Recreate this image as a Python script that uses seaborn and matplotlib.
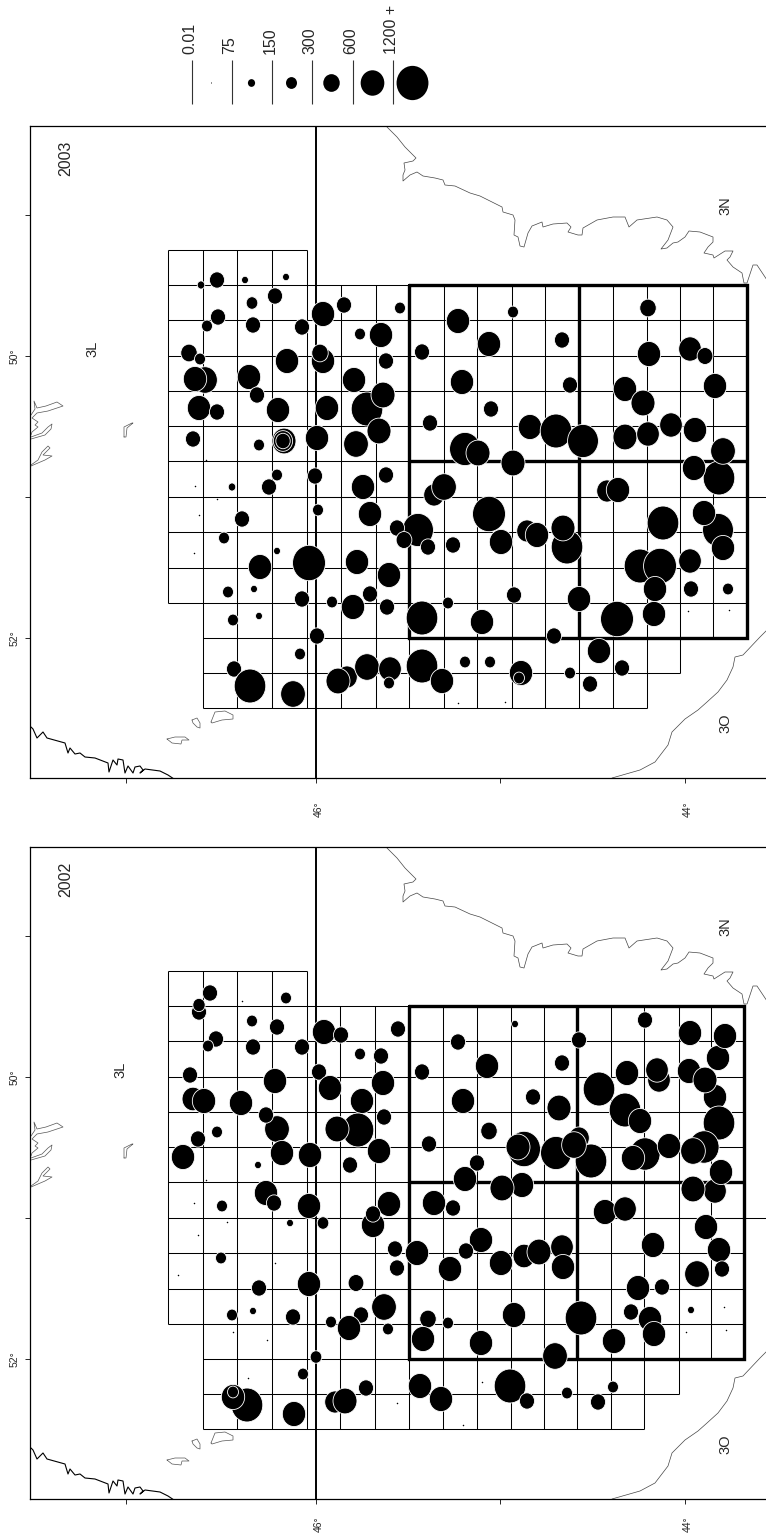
import pandas as pd
import numpy as np
import matplotlib
matplotlib.use("Agg")
import matplotlib.pyplot as plt
from matplotlib.path import Path
from matplotlib.transforms import Affine2D, ScaledTranslation
import seaborn as sns

sns.set_style("white")
plt.rcParams['font.family'] = ['Liberation Sans', 'DejaVu Sans']

# catches, map units (x east-west, y north-south)
x_2003 = [201,217,245,286,275,252,218,207,253,302,
          323,344,400,360,381,422,189,200,205,195,
          287,323,320,386,249,257,354,367,383,379,
          199,217,278,327,430,193,259,284,283,283,
          317,356,458,462,465,478,277,315,386,363,
          269,232,434,444,318,370,242,418,397,404,
          428,453,224,277,309,357,260,389,228,254,
          370,302,332,353,387,422,448,233,259,317,
          300,234,250,293,347,338,367,390,389,422,
          442,489,513,562,648,649,690,705,715,570,
          625,643,491,530,556,583,625,648,671,695,
          719,694,723,513,607,618,489,501,527,537,
          567,563,663,718,704,723,640,660,690,655,
          691,728,514,579,654,617,482,554,599,622,
          465,490,521,519,570,590]
y_2003 = [285,280,280,277,296,303,317,326,325,327,
          314,305,308,334,335,352,353,359,380,379,
          361,361,353,361,377,395,380,409,395,431,
          408,412,410,408,423,439,445,441,441,441,
          438,444,321,382,449,453,475,476,475,487,
          487,487,495,487,510,514,519,530,528,540,
          547,545,538,551,563,562,567,575,592,589,
          594,599,602,607,607,618,603,620,616,636,
          654,669,686,694,677,681,667,669,683,666,
          681,344,312,340,308,354,349,356,386,385,
          389,403,409,427,431,441,437,434,425,430,
          478,468,451,463,491,490,514,542,531,535,
          547,528,523,530,513,548,566,566,561,589,
          589,589,595,599,614,619,622,636,651,668,
          662,662,673,678,673,684]
catch_2003 = [111,450,94,94,450,266,450,238,450,450,
              1073,450,238,238,1073,450,533,238,1200,1073,
              1073,1073,533,450,1073,450,1073,1963,1131,1131,
              1073,450,1073,1073,450,450,238,1131,728,408,
              1073,1200,1073,1073,1875,1131,238,450,450,1073,
              450,111,833,1200,238,1073,450,1875,450,488,
              450,450,238,94,2133,1073,1073,1073,238,94,
              450,450,238,1073,450,1963,238,238,94,450,
              238,450,1963,1200,833,1131,1200,1008,238,1963,
              1073,1073,238,450,533,1073,1008,488,1073,450,
              1073,1131,450,1073,1963,1875,1131,1008,1008,1073,
              1963,1073,1200,1131,833,1073,2133,1073,833,1073,
              1963,1131,1963,1875,1073,1073,1963,2133,1008,1073,
              450,238,450,1073,1073,2133,1073,450,1073,450,
              238,238,1073,238,238,450]
tiny_x_2003 = [206,195,217,199,194,458,688,729,505]
tiny_y_2003 = [460,486,499,515,553,703,611,610,702]

x_2002 = [210,199,199,286,252,277,216,208,253,302,
          324,341,398,360,381,422,190,275,319,330,
          383,193,204,241,362,277,266,384,358,337,
          217,198,429,183,282,310,379,350,258,266,
          274,309,222,290,323,389,373,373,434,453,
          221,395,417,397,450,259,309,356,384,232,
          253,293,331,361,349,388,428,448,423,316,
          303,366,420,441,247,233,233,294,335,345,
          458,487,515,579,562,533,559,463,489,645,
          690,718,725,627,659,657,689,715,705,599,
          625,640,719,524,518,556,579,591,574,645,
          633,669,704,693,715,721,693,477,465,522,
          502,605,625,706,653,719,722,697,638,662,
          481,466,501,524,539,562,563,514,581,614,
          481,555,631,650,654,691,510,527,567,598,
          613]
y_2002 = [272,291,284,277,300,306,318,325,326,326,
          311,314,308,333,335,351,354,360,351,367,
          362,378,380,382,380,408,394,396,409,408,
          411,418,423,436,432,434,430,444,444,472,
          482,485,485,502,502,483,504,493,482,487,
          537,528,532,547,548,567,563,562,586,594,
          590,596,601,594,607,608,598,602,618,636,
          653,667,665,678,684,676,671,693,681,680,
          321,345,303,319,342,376,387,380,410,299,
          312,337,315,352,359,349,350,376,359,368,
          389,400,402,428,426,432,417,440,424,433,
          437,425,426,430,470,451,468,442,458,464,
          467,491,488,506,524,529,548,553,567,566,
          519,530,542,535,531,526,546,594,597,620,
          622,635,591,598,613,589,665,680,672,681,
          666]
catch_2002 = [450,450,300,238,238,450,450,238,450,450,
              1073,450,450,238,450,450,450,1073,450,1073,
              1073,945,1073,1073,1073,1200,450,450,1963,1131,
              238,450,450,1073,1073,1073,1073,450,94,1073,
              450,1073,238,94,266,1073,1073,450,1073,450,
              238,450,1073,450,1073,450,1073,488,1200,238,
              94,450,238,450,1073,238,533,238,1073,266,
              238,450,1073,1073,1963,1073,238,1073,833,1131,
              450,1073,94,450,450,450,1131,1073,533,450,
              1073,1073,1073,1073,1008,1008,1073,1073,1131,1963,
              1963,1073,1963,2133,1131,1875,833,1963,1200,1788,
              1073,1073,1788,1200,1008,1073,1131,450,1073,1073,
              1131,1073,1008,1073,1073,1073,450,1200,1073,450,
              1073,450,1073,945,1131,1008,1073,1073,1963,1073,
              1073,1200,450,1073,1073,94,1963,450,238,450,
              238]
tiny_x_2002 = [194,227,198,275,178,233,267,248,397,242,206,724,686,726,482,463]
tiny_y_2002 = [482,501,514,542,554,611,619,657,682,280,459,586,611,609,661,704]

# survey grid
grid_x_2003 = [168,203,237,272,307,341,376,409,444,477,512,545,579,613,647,680,713,747]
grid_x_2002 = [168,203,237,272,307,340,375,409,443,477,511,544,577,611,644,679,711,744]
grid_y = [250,285,320,356,391,426,461,497,532,568,603,638,673,708]

# graticule
lat_ticks = [126,316,500,685]
lat_labels = ['', '46°', '', '44°']
lon_ticks = [215,356,497,638]
lon_labels = ['', '50°', '', '52°']

# coastlines
coast_n_x = [387,397,405,416,413,404,405,403,403,410,417,423,435,443,445,455,470,480,502,503,513,515,514,518,520,524,528,532,542,543,553,567,571,568,578,582,583,597,613,625,629,637,657,667,673,668,661,667,673,678,685,689,700,713,713,708,704,713,714,725,733,730,727,733,742,744,747,753,757,767]
coast_n_y = [127,137,147,158,161,163,170,175,181,175,172,176,178,180,185,186,193,196,207,212,215,220,235,237,246,247,233,226,222,227,224,223,227,232,235,235,228,220,217,217,227,220,217,220,227,240,249,248,243,242,237,231,232,237,242,247,253,255,258,251,251,257,260,267,273,283,283,265,265,280]
coast_o_x = [767,760,743,735,733,727,718,707,698,685,672,668,655,640,612]
coast_o_y = [630,637,655,657,667,680,692,702,710,719,732,745,762,770,778]
coast_w_x = [31,33,37,43,47,65,68,70,75,80,85,95,108,109,113,117,118,123,125,128,133,135,140,143,140,145,160,168,174]
coast_w_y = [727,729,738,732,738,743,753,748,754,753,757,758,763,772,760,765,759,760,773,766,773,767,766,770,773,769,771,775,779]
islands = [
    ([31,35,34,37,46,57,63,48,37,32,38,35,38,32,31], [415,409,401,408,406,402,406,411,413,418,422,425,427,432,435]),
    ([31,42,48,52,51,45,31], [437,433,427,424,429,435,439]),
    ([31,38,42,48,50,43,52,45,31], [465,460,452,446,448,455,456,460,466]),
    ([124,124,132,133,127,126,124], [437,427,423,423,428,437,437]),
    ([167,175,185,189,182,181,172,167], [739,737,737,740,740,744,743,739]),
    ([192,197,200,200,197,193,192], [720,718,723,728,727,723,720]),
    ([211,215,225,233,233,222,212,211], [722,712,711,715,719,720,723,722]),
]

# legend
legend_labels = ['0.01', '75', '150', '300', '600', '1200 +']
legend_lines = [192,232,272,312,353,393]
legend_catch = [2,102,238,533,1102,2000]

W, H = 766, 1537
size_norm = (0, 2133)
bubble_sizes = (0, 0.29 * 2133 * 1.05)
# circles came out slightly taller than wide in the source
oval = Path.unit_circle().transformed(Affine2D().scale(0.93, 1.0))


def bubbles(ax, xs, ys, catches, lw=0.6):
    df = pd.DataFrame({'x': xs, 'y': ys, 'catch': catches})
    sns.scatterplot(data=df, x='x', y='y', size='catch', sizes=bubble_sizes, size_norm=size_norm,
                    marker=oval, color='black', edgecolor='white', linewidth=lw,
                    legend=False, ax=ax, zorder=5, clip_on=True)


def panel(fig, top_px, year, gx, bx, by, cx, tx, ty, l3x, xpad):
    ax = fig.add_axes([30 / W, 1 - (top_px + 652) / H, 737 / W, 652 / H])

    # horizontal grid lines
    for i, y in enumerate(grid_y):
        if i == 0:
            a, b = gx[0], gx[4]
        elif i <= 10:
            a, b = gx[0], gx[17]
        elif i == 11:
            a, b = gx[1], gx[17]
        elif i == 12:
            a, b = gx[1], gx[15]
        else:
            a, b = gx[1], gx[14]
        ax.hlines(y, a, b, color='black', lw=0.75, zorder=1)
    # vertical grid lines
    for j, x in enumerate(gx):
        if j == 0:
            a, b = grid_y[0], grid_y[10]
        elif j <= 4:
            a, b = grid_y[0], grid_y[13]
        elif j <= 14:
            a, b = grid_y[1], grid_y[13]
        elif j == 15:
            a, b = grid_y[1], grid_y[12]
        else:
            a, b = grid_y[1], grid_y[11]
        ax.vlines(x, a, b, color='black', lw=0.75, zorder=1)

    # thick box of the divisions
    ax.plot([gx[7], gx[17], gx[17], gx[7], gx[7]],
            [grid_y[1], grid_y[1], grid_y[11], grid_y[11], grid_y[1]],
            color='black', lw=2.4, zorder=2, solid_joinstyle='miter')
    ax.hlines(grid_y[6], gx[7], gx[17], color='black', lw=2.4, zorder=2)
    ax.vlines(gx[12], grid_y[1], grid_y[11], color='black', lw=2.4, zorder=2)

    # 46N and 51W lines
    ax.vlines(316, 126, 778, color='black', lw=1.4, zorder=3)
    ax.hlines(497, 316, 767, color='black', lw=0.75, zorder=1)

    # coast
    ax.plot(coast_n_x, coast_n_y, color='#444444', lw=0.5, zorder=1)
    ax.plot(coast_o_x, coast_o_y, color='#444444', lw=0.5, zorder=1)
    ax.plot(coast_w_x, coast_w_y, color='black', lw=0.8, zorder=1)
    for ix, iy in islands:
        ax.plot(ix, iy, color='#555555', lw=0.5, zorder=1)

    bubbles(ax, bx, by, cx)
    ax.scatter(tx, ty, s=1.2, color='black', linewidths=0, zorder=5)

    ax.set_xlim(30, 767)
    ax.set_ylim(778, 126)
    ax.set_xticks(lat_ticks)
    ax.set_xticklabels(lat_labels, rotation=90, fontsize=7.5)
    ax.set_yticks(lon_ticks)
    ax.set_yticklabels(lon_labels, rotation=90, va='center', fontsize=7.5)
    ax.tick_params(length=3.6, width=0.7, bottom=True, left=True)
    ax.tick_params(axis='x', pad=xpad)
    ax.tick_params(axis='y', pad=4)
    # the rotated labels sit a little left of their ticks otherwise
    shift = ScaledTranslation(2 / 72, 0, fig.dpi_scale_trans)
    for lab in ax.get_xticklabels():
        lab.set_transform(lab.get_transform() + shift)
    ax.set_xlabel('')
    ax.set_ylabel('')
    ax.spines['right'].set_visible(False)
    for s in ['top', 'left', 'bottom']:
        ax.spines[s].set_linewidth(0.9)
        ax.spines[s].set_color('black')

    ax.text(66, 158, year, rotation=90, ha='center', va='center', fontsize=11.5)
    ax.text(l3x, 349, '3L', rotation=90, ha='center', va='center', fontsize=10.5)
    ax.text(725, 206, '3N', rotation=90, ha='center', va='center', fontsize=10.5)
    ax.text(725, 723, '3O', rotation=90, ha='center', va='center', fontsize=10.5)
    return ax


fig = plt.figure(figsize=(W / 100, H / 100), dpi=100)

panel(fig, 126, '2003', grid_x_2003, x_2003, y_2003, catch_2003, tiny_x_2003, tiny_y_2003, 92, 13)
panel(fig, 847, '2002', grid_x_2002, x_2002, y_2002, catch_2002, tiny_x_2002, tiny_y_2002, 120, 9)

# size legend along the top
ax_leg = fig.add_axes([0, 1 - 115 / H, 1, 115 / H])
ax_leg.vlines(legend_lines, 60, 104, color='#333333', lw=0.8)
bubbles(ax_leg, [v + 19.5 for v in legend_lines], [83] * 6, legend_catch, lw=0)
for v, lab in zip(legend_lines, legend_labels):
    ax_leg.text(v - 2, 54, lab, rotation=90, ha='center', va='bottom', fontsize=11.5)
ax_leg.set_xlim(0, W)
ax_leg.set_ylim(115, 0)
ax_leg.axis('off')

fig.savefig('out.png', dpi=100)
